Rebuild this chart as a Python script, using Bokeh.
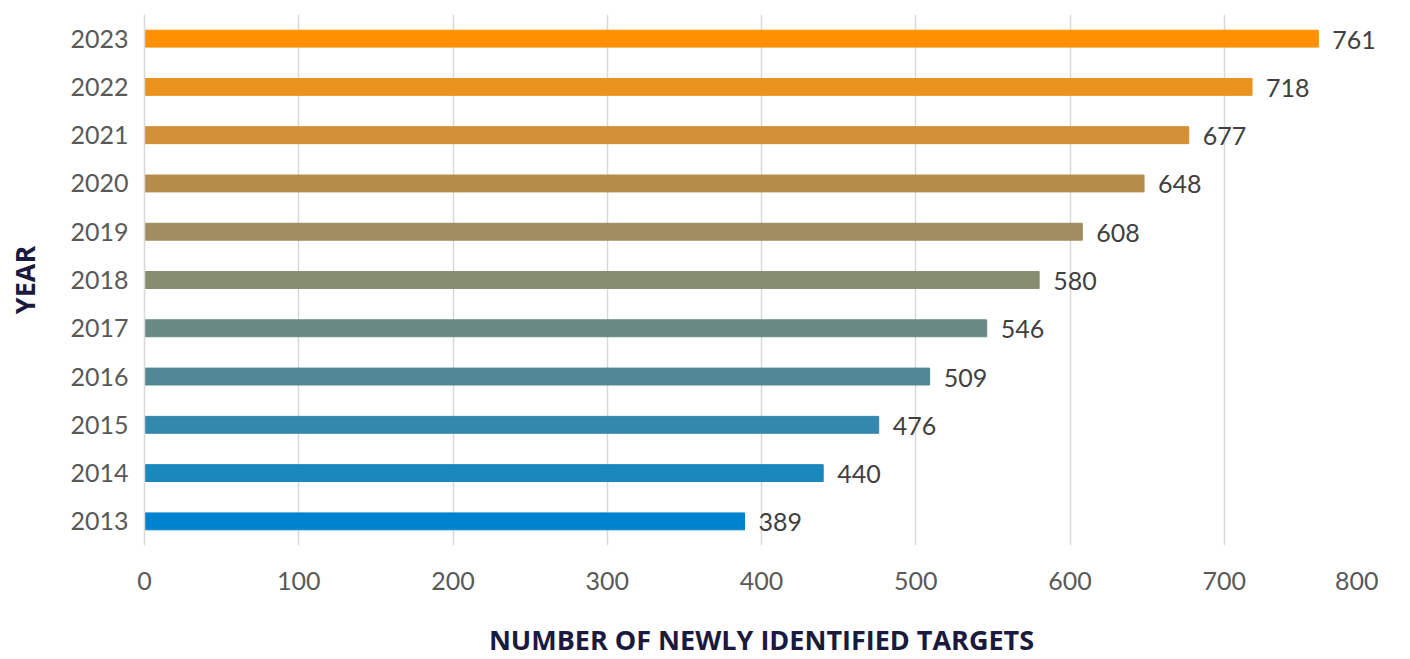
from bokeh.plotting import figure
from bokeh.models import ColumnDataSource, Range1d, FactorRange, FixedTicker, LabelSet
from bokeh.core.properties import value
from bokeh.embed import file_html
from bokeh.resources import INLINE

years = ["2013", "2014", "2015", "2016", "2017", "2018", "2019", "2020", "2021", "2022", "2023"]
targets = [389, 440, 476, 509, 546, 580, 608, 648, 677, 718, 761]
colors = ["#0083CF", "#1A87BD", "#3388AE", "#508896", "#678A84", "#878D6F",
          "#A08C5E", "#B68C4B", "#D28F35", "#E9931E", "#FF9100"]
x_ticks = [0, 100, 200, 300, 400, 500, 600, 700, 800]

src = ColumnDataSource(dict(year=years, value=targets, color=colors,
                            label=[str(v) for v in targets]))

p = figure(frame_width=1234, frame_height=531, output_backend="svg", toolbar_location=None,
           y_range=FactorRange(factors=years, range_padding=0),
           x_range=Range1d(0, 800),
           min_border_left=144, min_border_right=0, min_border_top=14, min_border_bottom=0,
           border_fill_color="white")
p.outline_line_color = None
p.background_fill_color = "white"

p.hbar(y="year", right="value", left=0, height=0.35, color="color", source=src)

labels = LabelSet(x="value", y="year", text="label", source=src, x_offset=14, y_offset=-1,
                  text_baseline="middle", text_align="left", text_font=value("Lato"),
                  text_font_size="25px", text_color="#404040")
p.add_layout(labels)

p.xaxis.ticker = FixedTicker(ticks=x_ticks)
p.xgrid.grid_line_color = "#D9D9D9"
p.xgrid.grid_line_width = 1.5
p.ygrid.grid_line_color = None

p.xaxis.axis_line_color = None
p.xaxis.major_tick_line_color = None
p.xaxis.minor_tick_line_color = None
p.xaxis.major_tick_in = 0
p.xaxis.major_tick_out = 0
p.xaxis.major_label_text_font = "Lato"
p.xaxis.major_label_text_font_size = "25px"
p.xaxis.major_label_text_color = "#595959"
p.xaxis.major_label_standoff = 26
p.xaxis.axis_label = "NUMBER OF NEWLY IDENTIFIED TARGETS"
p.xaxis.axis_label_text_font = "Open Sans"
p.xaxis.axis_label_text_font_style = "bold"
p.xaxis.axis_label_text_font_size = "27px"
p.xaxis.axis_label_text_color = "#1B1A3E"
p.xaxis.axis_label_standoff = 28

p.yaxis.axis_line_color = "#D9D9D9"
p.yaxis.axis_line_width = 1.5
p.yaxis.major_tick_line_color = None
p.yaxis.minor_tick_line_color = None
p.yaxis.major_tick_in = 0
p.yaxis.major_tick_out = 0
p.yaxis.major_label_text_font = "Lato"
p.yaxis.major_label_text_font_size = "25px"
p.yaxis.major_label_text_color = "#595959"
p.yaxis.major_label_standoff = 16
p.yaxis.axis_label = "YEAR"
p.yaxis.axis_label_text_font = "Open Sans"
p.yaxis.axis_label_text_font_style = "bold"
p.yaxis.axis_label_text_font_size = "27px"
p.yaxis.axis_label_text_color = "#1B1A3E"
p.yaxis.axis_label_standoff = 24

open("out.html", "w").write(file_html(p, INLINE))
